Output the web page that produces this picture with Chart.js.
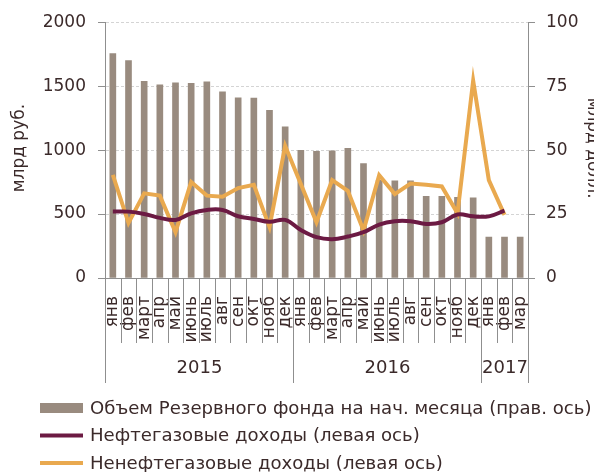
<!DOCTYPE html>
<html lang="ru">
<head>
<meta charset="UTF-8">
<title>Резервный фонд и доходы бюджета</title>
<script src="https://cdn.jsdelivr.net/npm/chart.js"></script>
<style>
  html, body { margin: 0; padding: 0; background: #fff; overflow: hidden; }
</style>
</head>
<body>
<canvas id="chart" width="594" height="472"></canvas>
<script>
// months (2015 x12, 2016 x12, 2017 x3)
const months = [
  'янв','фев','март','апр','май','июнь','июль','авг','сен','окт','нояб','дек',
  'янв','фев','март','апр','май','июнь','июль','авг','сен','окт','нояб','дек',
  'янв','фев','мар'
];
const yearLabels = ['2015', '2016', '2017'];
const yearSpans = [12, 12, 3];

// Reserve fund, bn USD (right axis)
const reserveFund = [
  87.7, 85.0, 76.9, 75.5, 76.3, 76.1, 76.7, 72.8, 70.4, 70.3, 65.5, 59.1,
  49.9, 49.5, 49.7, 50.7, 44.7, 38.2, 38.0, 38.0, 31.9, 31.9, 31.5, 31.3,
  16.0, 16.0, 16.0
];
// oil & gas revenue, bn RUB (left axis)
const oilGas = [
  519, 519, 501, 470, 454, 506, 532, 532, 483, 462, 439, 454,
  375, 319, 303, 324, 358, 418, 444, 444, 423, 436, 496, 482,
  482, 527
];
// non oil & gas revenue, bn RUB (left axis)
const nonOilGas = [
  807, 430, 662, 644, 358, 750, 644, 636, 703, 729, 400, 1032,
  735, 436, 765, 682, 371, 804, 656, 739, 729, 716, 506, 1543,
  765, 493
];

const leftTicks = [0, 500, 1000, 1500, 2000];
const rightTicks = [0, 25, 50, 75, 100];

const textColor = '#3b2a2a';
const axisGray = '#8f8f8f';
const barColor = '#998b7f';
const oilColor = '#6c1a43';
const nonOilColor = '#e9a94f';
const fontFamily = '"DejaVu Sans", sans-serif';

const decor = {
  id: 'decor',
  afterDraw(chart) {
    const { ctx, chartArea } = chart;
    const x = chart.scales.x;
    const bottom = chartArea.bottom;
    const half = (x.getPixelForValue(1) - x.getPixelForValue(0)) / 2;
    ctx.save();
    ctx.strokeStyle = axisGray;
    ctx.lineWidth = 1;

    // separators between months
    ctx.beginPath();
    for (let i = 0; i <= months.length; i++) {
      const px = Math.round(x.getPixelForValue(i) - half) + 0.5;
      ctx.moveTo(px, bottom);
      ctx.lineTo(px, bottom + 65);
    }
    ctx.stroke();

    // year groups
    ctx.fillStyle = textColor;
    ctx.font = '18px ' + fontFamily;
    ctx.textAlign = 'center';
    ctx.textBaseline = 'middle';
    let start = 0;
    yearSpans.forEach((n, k) => {
      const x0 = Math.round(x.getPixelForValue(start) - half) + 0.5;
      const x1 = Math.round(x.getPixelForValue(start + n - 1) + half) + 0.5;
      ctx.beginPath();
      ctx.moveTo(x0, bottom); ctx.lineTo(x0, bottom + 105);
      ctx.moveTo(x1, bottom); ctx.lineTo(x1, bottom + 105);
      ctx.stroke();
      ctx.fillText(yearLabels[k], (x0 + x1) / 2, bottom + 90);
      start += n;
    });

    // axis titles
    const midY = (chartArea.top + chartArea.bottom) / 2 - 2;
    ctx.font = '17px ' + fontFamily;
    ctx.save();
    ctx.translate(20, midY);
    ctx.rotate(-Math.PI / 2);
    ctx.fillText('млрд руб.', 0, 0);
    ctx.restore();
    ctx.save();
    ctx.translate(592, midY);
    ctx.rotate(Math.PI / 2);
    ctx.fillText('млрд долл.', 0, 0);
    ctx.restore();

    // legend
    const items = [
      { ds: chart.data.datasets[2], y: 408, box: true },
      { ds: chart.data.datasets[0], y: 435.5 },
      { ds: chart.data.datasets[1], y: 463 }
    ];
    ctx.textAlign = 'left';
    ctx.font = '18.1px ' + fontFamily;
    items.forEach(it => {
      if (it.box) {
        ctx.fillStyle = it.ds.backgroundColor;
        ctx.fillRect(40, it.y - 5, 43, 10);
      } else {
        ctx.strokeStyle = it.ds.borderColor;
        ctx.lineWidth = 4;
        ctx.beginPath();
        ctx.moveTo(40, it.y); ctx.lineTo(83, it.y);
        ctx.stroke();
      }
      ctx.fillStyle = textColor;
      ctx.fillText(it.ds.label, 90, it.y + 1);
    });
    ctx.restore();
  }
};

new Chart(document.getElementById('chart'), {
  type: 'bar',
  data: {
    labels: months,
    datasets: [
      {
        type: 'line', label: 'Нефтегазовые доходы (левая ось)', data: oilGas,
        yAxisID: 'y', borderColor: oilColor, borderWidth: 4, tension: 0.4,
        pointRadius: 0, order: 0
      },
      {
        type: 'line', label: 'Ненефтегазовые доходы (левая ось)', data: nonOilGas,
        yAxisID: 'y', borderColor: nonOilColor, borderWidth: 4, tension: 0,
        pointRadius: 0, order: 0
      },
      {
        type: 'bar', label: 'Объем Резервного фонда на нач. месяца (прав. ось)', data: reserveFund,
        yAxisID: 'y1', backgroundColor: barColor, barThickness: 6, order: 1
      }
    ]
  },
  options: {
    responsive: false,
    animation: false,
    layout: { padding: { top: 21, right: 0, left: 0, bottom: 0 } },
    plugins: { legend: { display: false }, tooltip: { enabled: false } },
    scales: {
      x: {
        offset: true,
        grid: { display: false },
        border: { color: axisGray },
        ticks: {
          autoSkip: false, minRotation: 90, maxRotation: 90, padding: 10,
          color: textColor, font: { family: fontFamily, size: 17 }
        },
        afterFit(s) { s.height = 194; }
      },
      y: {
        position: 'left', min: 0, max: 2000,
        afterBuildTicks(s) { s.ticks = leftTicks.map(v => ({ value: v })); },
        grid: { color: '#d4d4d4', tickColor: axisGray, tickLength: 7, tickBorderDash: [] },
        border: { color: axisGray, dash: [3, 2] },
        ticks: {
          padding: 12, color: textColor, font: { family: fontFamily, size: 17 },
          callback: v => String(v)
        },
        afterFit(s) { s.width = 105; }
      },
      y1: {
        position: 'right', min: 0, max: 100,
        afterBuildTicks(s) { s.ticks = rightTicks.map(v => ({ value: v })); },
        grid: { drawOnChartArea: false, tickColor: axisGray, tickLength: 7 },
        border: { color: axisGray },
        ticks: {
          padding: 11, color: textColor, font: { family: fontFamily, size: 17 },
          callback: v => String(v)
        },
        afterFit(s) { s.width = 66; }
      }
    }
  },
  plugins: [decor]
});
</script>
</body>
</html>
